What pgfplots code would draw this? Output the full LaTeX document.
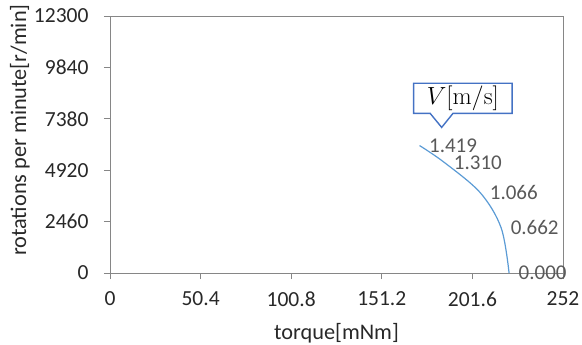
\documentclass[border=0pt]{standalone}
\usepackage{pgfplots}
\pgfplotsset{compat=1.18}
\usepackage[no-math]{fontspec}
\setmainfont{Carlito}
\definecolor{axgray}{RGB}{134,134,134}
\definecolor{txt}{RGB}{40,40,40}
\definecolor{lbl}{RGB}{89,89,89}
\definecolor{line}{RGB}{91,155,213}
\definecolor{callout}{RGB}{68,114,196}
\newcommand{\fs}{\fontsize{21.5bp}{25bp}\selectfont}
\newcommand{\fl}{\fontsize{22.3bp}{26bp}\selectfont}
\newcommand{\fd}{\fontsize{21bp}{25bp}\selectfont}
\begin{document}
\begin{tikzpicture}
\path[use as bounding box] (-110bp,-72bp) rectangle (472bp,273bp);
\begin{axis}[
  at={(0,0)}, anchor=south west,
  width=453bp, height=257bp, scale only axis,
  xmin=0, xmax=252, ymin=0, ymax=12300,
  scaled x ticks=false, scaled y ticks=false,
  xtick={0,50.4,100.8,151.2,201.6,252},
  xticklabels={0,50.4,100.8,151.2,201.6,252},
  ytick={0,2460,4920,7380,9840,12300},
  yticklabels={0,2460,4920,7380,9840,12300},
  /pgf/number format/assume math mode=true,
  tick pos=left, tick align=outside, major tick length=6bp,
  axis line style={draw=axgray, line width=0.8bp},
  tick style={draw=axgray, line width=0.8bp},
  ticklabel style={font=\fs, text=txt},
  yticklabel style={xshift=-12bp},
  xticklabel style={yshift=-9bp},
  xlabel={torque[mNm]},
  ylabel={rotations per minute[r/min]},
  label style={font=\fl, text=txt},
  xlabel style={at={(axis description cs:0.5,-0.233)}, anchor=center},
  ylabel style={at={(axis description cs:-0.199,0.556)}, anchor=center, rotate=0},
  clip=false,
]
\addplot[line, line width=1.2bp, smooth, tension=0.55,
  point meta=explicit symbolic,
  nodes near coords,
  nodes near coords style={anchor=west, font=\fd, text=lbl, inner sep=1bp, xshift=8bp},
] table[meta=lab] {
x y lab
172.2 6100 1.419
186.0 5290 1.310
206.0 3840 1.066
217.6 2160 0.662
222.0 0 0.000
};
\draw[callout, fill=white, line width=1.4bp]
  (axis cs:168.9,9082) -- (axis cs:223.7,9082) -- (axis cs:223.7,7640)
  -- (axis cs:190.8,7640) -- (axis cs:184.5,6968) -- (axis cs:178.1,7640)
  -- (axis cs:168.9,7640) -- cycle;
\node[font=\fontsize{25bp}{29bp}\selectfont, text=black] at (axis cs:196.3,8361) {$V[\mathrm{m/s}]$};
\end{axis}
\end{tikzpicture}
\end{document}
